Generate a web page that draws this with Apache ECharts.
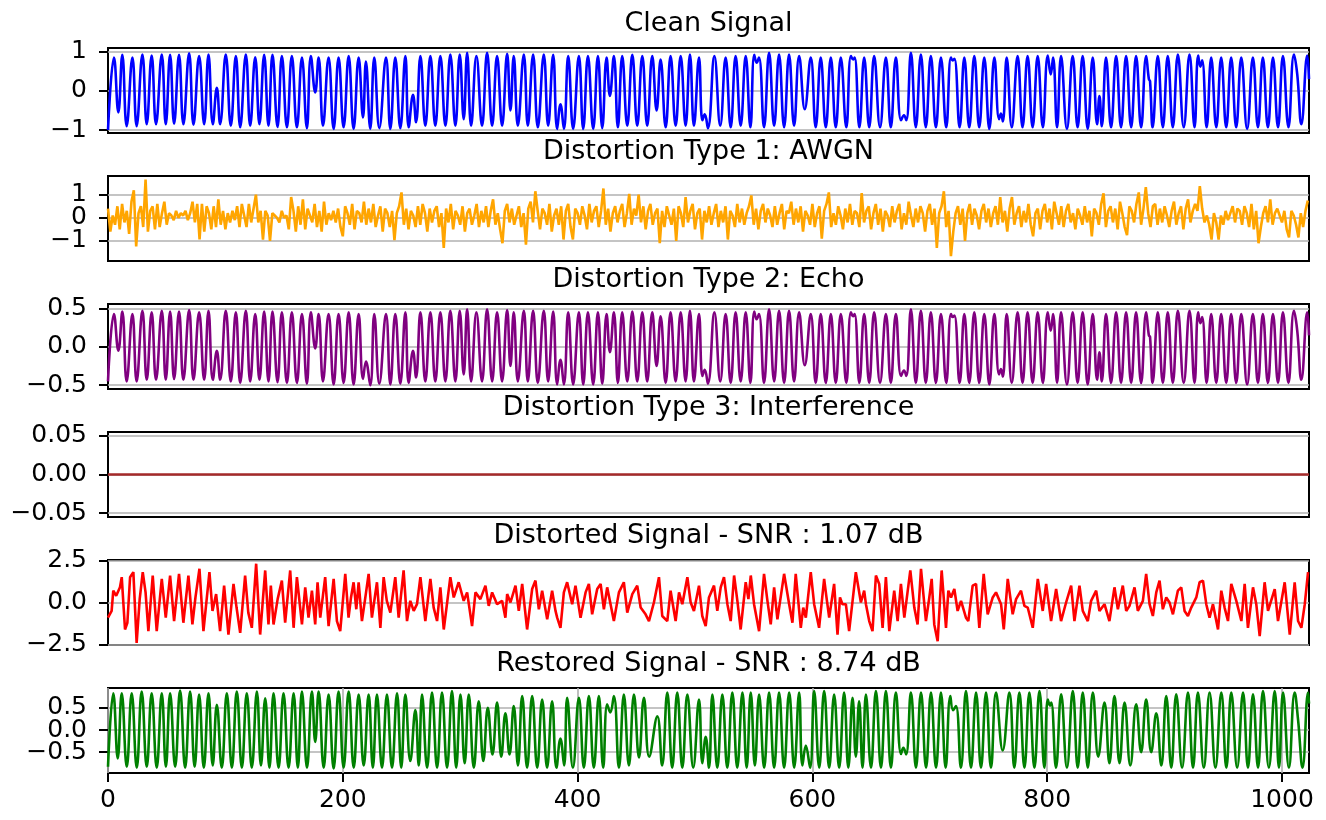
<!DOCTYPE html>
<html><head><meta charset="utf-8">
<script src="https://cdn.jsdelivr.net/npm/echarts@6/dist/echarts.min.js"></script>
<style>html,body{margin:0;padding:0;background:#fff}#chart{width:1326px;height:820px}</style>
</head><body><div id="chart"></div>
<script>
const titles = ['Clean Signal','Distortion Type 1: AWGN','Distortion Type 2: Echo','Distortion Type 3: Interference','Distorted Signal - SNR : 1.07 dB','Restored Signal - SNR : 8.74 dB'];
const xTicks = [0,200,400,600,800,1000];
const cleanTicks = [-1,0,1];
const awgnTicks = [-1,0,1];
const echoTicks = [-0.5,0,0.5];
const interfTicks = [-0.05,0,0.05];
const distTicks = [-2.5,0,2.5];
const restTicks = [-0.5,0,0.5];

// clean signal: sample positions of its turning points and their values
const cleanX = [0,5.1,8.8,12.2,15.9,20.8,24.4,29.3,33.0,37.2,40.9,45.8,49.2,52.9,56.3,60.5,64.2,69.1,72.8,77.6,81.9,85.6,89.3,92.7,95.5,100.3,104.6,108.9,112.6,117.4,121.1,125.4,129.0,133.0,136.7,140.1,144.4,148.1,152.4,156.6,160.9,165.2,169.4,172.8,176.5,179.4,183.1,187.9,192.2,196.4,200.7,205.0,209.2,213.5,217.2,219.7,223.4,226.8,231.1,236.8,240.5,244.7,249.0,253.3,
256.1,259.8,262.4,266.1,270.3,274.6,278.8,283.1,287.4,291.6,295.9,299.6,303.0,305.9,309.3,313.8,318.6,322.9,327.2,331.4,335.7,340.0,342.8,345.6,349.1,354.2,357.6,362.1,366.1,371.2,374.9,379.2,382.6,385.4,388.3,392.0,396.2,401.1,404.8,408.8,413.3,417.3,421.0,424.7,427.5,430.9,434.3,438.0,442.3,446.6,450.8,455.1,459.3,463.6,467.3,470.7,475.0,479.2,483.5,487.8,492.0,495.7,499.1,503.4,506.3,508.3,511.0,
516.5,521.5,526.1,530.4,534.6,538.9,543.2,547.2,550.5,552.5,554.5,558.8,563.1,567.4,571.6,575.9,580.1,584.4,588.7,593.5,598.6,602.8,607.1,611.4,615.7,619.9,624.2,628.9,632.8,634.8,636.0,640.0,644.1,648.4,652.6,657.6,662.6,666.8,671.1,675.5,678.0,680.0,683.9,688.1,692.4,696.6,700.9,705.2,709.5,714.0,718.0,719.5,721.0,725.4,729.4,733.6,737.9,742.1,746.4,750.7,755.0,759.0,760.6,762.2,765.5,
769.8,774.8,779.0,783.3,787.6,791.9,796.3,800.5,803.0,805.0,808.4,811.8,816.8,821.7,825.9,830.2,834.5,838.8,842.5,844.5,846.5,850.1,854.4,858.7,862.9,867.2,871.5,875.7,880.0,884.3,886.6,887.6,889.8,894.2,898.5,902.7,907.0,911.3,916.3,921.2,925.5,928.6,930.5,932.0,935.8,939.7,944.0,948.2,952.5,956.7,961.0,965.3,970.3,975.2,979.5,983.7,988.0,992.3,996.6,1000.8,1005.5,1010.2,1013.0,1016.5,1021.5,1023];
const cleanY = [-1.0,0.85,-0.55,0.92,-0.9,0.85,-0.9,0.93,-0.85,0.9,-0.85,0.93,-0.85,0.92,-0.84,0.92,-0.85,0.96,-0.86,0.89,-0.85,0.93,-0.85,0.08,-0.85,0.93,-0.89,0.89,-0.93,0.93,-0.89,0.86,-0.85,0.92,-0.89,0.92,-0.92,0.89,-0.93,0.89,-0.93,0.85,-0.95,0.89,-0.04,0.85,-0.89,0.85,-0.97,0.85,-0.93,0.89,-0.97,0.85,-0.68,0.75,-0.97,0.85,-0.95,0.85,-0.97,0.85,-0.95,0.89,
-0.93,-0.1,-0.8,0.89,-0.89,0.89,-0.89,0.89,-0.89,0.93,-0.89,0.93,-0.72,0.97,-0.89,0.89,-0.89,0.97,-0.89,0.89,-0.89,0.95,-0.5,0.89,-0.89,0.93,-0.89,0.93,-0.93,0.93,-0.89,0.92,-0.97,-0.34,-0.97,0.89,-0.97,0.89,-0.97,0.89,-0.97,0.89,-0.95,0.85,-0.13,0.89,-0.93,0.89,-0.89,0.92,-0.89,0.89,-0.89,0.89,-0.5,0.8,-0.93,0.89,-0.89,0.89,-0.89,0.93,-0.89,0.85,-0.75,-0.6,-0.95,
0.89,-0.89,0.85,-0.93,0.89,-0.89,0.89,-0.93,0.92,0.72,0.85,-0.93,0.97,-0.89,0.93,-0.93,0.93,-0.89,0.89,-0.47,0.85,-0.93,0.85,-0.93,0.85,-0.93,0.85,-0.93,0.89,0.8,0.85,-0.93,0.85,-0.93,0.89,-0.93,0.85,-0.93,0.85,-0.75,-0.62,-0.75,0.97,-0.93,0.93,-0.93,0.89,-0.93,0.85,-0.93,0.85,0.78,0.82,-0.93,0.85,-0.93,0.89,-0.93,0.85,-0.97,0.85,-0.72,-0.58,-0.78,0.85,
-0.93,0.89,-0.93,0.89,-0.93,0.89,-0.93,0.9,0.42,0.85,-0.93,0.89,-0.97,0.89,-0.93,0.89,-0.97,0.85,-0.85,-0.13,-0.9,0.85,-0.93,0.89,-0.93,0.89,-0.93,0.89,-0.93,0.89,0.3,0.25,-0.93,0.89,-0.93,0.89,-0.93,0.93,-0.93,0.93,-0.93,0.9,0.62,0.78,-0.93,0.85,-0.93,0.85,-0.93,0.85,-0.93,0.85,-0.97,0.85,-0.93,0.85,-0.93,0.85,-0.93,0.89,-0.93,0.93,0.42,-0.85,0.9,0.3];

// echo: read at the same turning points as the clean signal
const echoY = [-0.45,0.43,-0.05,0.46,-0.45,0.43,-0.45,0.47,-0.43,0.45,-0.43,0.47,-0.43,0.46,-0.42,0.46,-0.43,0.48,-0.43,0.45,-0.43,0.47,-0.43,-0.05,-0.43,0.47,-0.45,0.45,-0.47,0.47,-0.45,0.43,-0.43,0.46,-0.45,0.46,-0.46,0.45,-0.47,0.45,-0.47,0.43,-0.48,0.45,-0.02,0.43,-0.45,0.43,-0.49,0.43,-0.47,0.45,-0.49,0.43,-0.42,-0.19,-0.5,0.43,-0.48,0.43,-0.49,0.43,-0.48,0.45,
-0.47,-0.05,-0.4,0.45,-0.45,0.45,-0.45,0.45,-0.45,0.47,-0.45,0.47,-0.36,0.49,-0.45,0.45,-0.45,0.49,-0.45,0.45,-0.45,0.48,-0.25,0.45,-0.45,0.47,-0.45,0.47,-0.47,0.47,-0.45,0.46,-0.49,-0.17,-0.49,0.45,-0.49,0.45,-0.49,0.45,-0.49,0.45,-0.48,0.43,-0.07,0.45,-0.47,0.45,-0.45,0.46,-0.45,0.45,-0.45,0.45,-0.25,0.4,-0.47,0.45,-0.45,0.45,-0.45,0.47,-0.45,0.43,-0.38,-0.3,-0.48,
0.45,-0.45,0.43,-0.47,0.45,-0.45,0.45,-0.47,0.46,0.36,0.43,-0.47,0.49,-0.45,0.47,-0.47,0.47,-0.45,0.45,-0.24,0.43,-0.47,0.43,-0.47,0.43,-0.47,0.43,-0.47,0.45,0.4,0.43,-0.47,0.43,-0.47,0.45,-0.47,0.43,-0.47,0.43,-0.38,-0.31,-0.38,0.49,-0.47,0.47,-0.47,0.45,-0.47,0.43,-0.47,0.43,0.39,0.41,-0.47,0.43,-0.47,0.45,-0.47,0.43,-0.49,0.43,-0.36,-0.29,-0.39,0.43,
-0.47,0.45,-0.47,0.45,-0.47,0.45,-0.47,0.45,0.21,0.43,-0.47,0.45,-0.49,0.45,-0.47,0.45,-0.49,0.43,-0.43,-0.07,-0.45,0.43,-0.47,0.45,-0.47,0.45,-0.47,0.45,-0.47,0.45,0.15,0.13,-0.47,0.45,-0.47,0.45,-0.47,0.47,-0.47,0.47,-0.47,0.45,0.31,0.39,-0.47,0.43,-0.47,0.43,-0.47,0.43,-0.47,0.43,-0.49,0.43,-0.47,0.43,-0.47,0.43,-0.47,0.45,-0.47,0.47,0.21,-0.43,0.45,0.15];

// AWGN: one value every AWGN_STEP samples
const AWGN_STEP = 2;
const awgnY = [
0.4,-0.6,0.1,-0.3,0.5,-0.5,0.6,-0.2,0.3,-0.7,0.7,1.19,-1.24,0.2,0.5,-0.4,
1.66,-0.6,0.3,0.5,-0.5,0.6,-0.4,0.2,0.7,-0.3,0.2,0.1,-0.1,0.3,0.0,0.2,
0.1,0.3,-0.1,0.2,0.7,-0.2,0.6,-0.94,0.6,-0.6,0.5,0.2,-0.5,0.5,-0.4,0.8,
-0.3,0.3,-0.5,0.2,-0.2,0.3,-0.1,0.5,-0.4,0.6,0.1,-0.4,0.6,-0.2,0.4,1.0,
-0.2,0.3,-0.94,0.3,0.1,-1.0,0.2,0.1,0.0,-0.2,0.3,0.0,0.1,-0.5,0.9,0.3,
-0.6,0.5,-0.3,0.8,-0.5,0.4,0.1,-0.2,0.6,-0.4,0.3,-0.6,0.7,-0.3,0.2,-0.1,
0.3,-0.2,0.4,-0.4,-0.8,0.5,0.2,-0.3,0.6,-0.5,0.3,0.2,-0.2,0.7,-0.3,0.4,
-0.2,0.6,-0.4,0.1,0.5,-0.6,0.4,0.2,-0.4,0.3,-0.97,0.2,0.5,1.1,-0.3,0.4,
-0.5,0.3,0.1,-0.4,0.5,-0.3,0.6,0.2,-0.6,0.4,-0.2,0.3,0.5,-0.4,0.2,-1.3,
0.4,-0.2,0.6,-0.5,0.3,0.1,-0.3,0.5,-0.6,0.2,0.4,-0.3,0.1,0.6,-0.4,0.3,
-0.2,0.5,-0.4,0.3,0.8,-0.3,0.2,-0.5,-1.1,0.3,0.6,-0.2,0.4,-0.3,0.1,0.5,
-0.4,0.2,-1.16,0.4,0.7,-0.2,1.15,0.3,-0.5,0.4,0.2,-0.3,0.6,-0.6,0.1,0.4,
-0.3,0.5,-0.94,0.3,0.6,-0.4,-0.94,0.4,0.2,-0.3,0.5,0.1,-0.5,0.6,-0.2,0.3,
0.5,-0.4,0.3,1.27,-0.3,0.4,-0.6,0.2,0.5,-0.2,0.3,0.6,-0.4,0.2,1.04,-0.3,
0.4,0.1,1.0,-0.2,0.5,-0.5,0.3,0.6,-0.3,0.2,0.4,-1.1,0.3,-0.4,0.5,0.1,
-0.3,0.4,-1.0,0.5,0.2,-0.4,0.9,-0.2,0.3,0.6,-0.5,0.2,0.4,-0.94,0.3,-0.2,
0.5,-0.3,0.2,0.6,-0.4,0.3,-0.2,0.5,-0.94,0.3,0.1,-0.4,0.6,-0.2,0.4,-0.3,
0.2,0.5,0.97,-0.3,0.4,-0.5,0.3,0.6,-0.2,0.4,0.1,-0.4,0.5,-0.3,0.2,0.6,
-0.5,0.3,0.2,0.7,-0.3,0.4,-0.2,0.5,-0.6,0.3,0.1,-0.3,0.6,-0.4,0.2,0.5,
-0.9,0.3,0.6,1.1,-0.4,0.2,-0.3,0.5,0.1,-0.5,0.4,-0.2,0.6,-0.3,0.3,0.2,
-0.4,1.07,-0.2,0.3,0.5,-0.5,0.2,0.6,-0.3,0.4,-0.6,0.3,0.1,-0.4,0.5,-0.2,
0.3,0.6,-0.5,0.2,-0.3,0.7,0.1,-0.4,0.4,-0.2,0.5,0.2,-0.6,0.3,0.6,-0.3,
0.4,-1.3,0.2,0.5,1.15,-0.4,0.3,-1.66,-0.6,0.2,0.5,-0.3,0.4,-1.0,0.2,0.6,
-0.3,0.4,0.1,-0.5,0.3,0.6,-0.2,0.4,-0.4,0.2,0.5,-0.3,0.9,-0.2,0.3,-0.6,
0.4,0.9,-0.3,0.2,0.5,-0.4,0.3,-0.2,0.6,-0.3,-0.8,0.2,0.4,-0.5,0.3,0.6,
-0.2,0.4,-0.5,0.7,0.2,-0.3,0.5,-0.4,0.3,0.6,-0.2,0.2,-0.5,0.4,0.1,-0.3,
0.5,-0.2,0.3,-0.8,0.4,0.2,-0.3,0.6,1.06,-0.4,0.3,0.5,-0.2,0.4,-0.5,0.7,
0.2,-0.4,-0.75,0.5,0.3,-0.2,0.6,1.1,-0.3,0.4,1.33,0.2,-0.4,0.5,0.6,-0.3,
0.4,-0.2,0.5,0.1,-0.4,0.3,0.7,-0.3,0.2,0.5,-0.5,0.4,0.8,-0.2,0.3,0.6,
0.3,1.37,0.4,-0.2,0.1,-0.3,-0.94,0.2,-0.2,-0.94,0.1,-0.3,0.3,-0.1,0.2,0.5,
-0.2,0.4,0.3,-0.3,0.5,0.2,-0.4,0.6,-0.5,0.3,-1.1,-0.4,0.2,0.5,-0.2,0.8,
-0.3,0.2,0.4,0.1,-0.2,0.3,-0.5,-0.85,0.3,0.1,-0.3,-0.85,0.2,-0.4,0.3,0.75];

// interference: flat zero line
const interfX = [0,1023];
const interfY = [0,0];

// distorted signal: [sample, value]
const distPoints = [[0,-0.9],[3.1,-0.5],[4.5,0.7],[7,0.4],[10.2,0.9],[11.7,1.5],[14.5,-1.6],[16.5,-1.2],[18.8,1.5],[21.6,1.8],[24.4,-2.4],[27,0.2],[29.6,1.8],[32,0.6],[34.4,-1.7],[38.1,1.6],[41.5,-1.7],[45.8,1.4],[49.2,-0.9],[52.9,1.6],[56.3,-1.1],[60.5,1.7],[64.2,-1.2],[68.5,1.6],[71.9,-1.3],[74.5,0.3],[77.9,2.0],[81.3,-1.7],[86.4,1.8],[89,-0.5],[92.1,0.5],[95.5,-1.7],[98.9,1.0],[102.6,-1.9],[106.9,1.1],[109.5,-0.3],[112.6,-1.8],[116.8,1.6],[119.5,-0.6],[122.5,-1.5],[126.2,2.3],[129.6,-1.9],[133.9,1.9],[136.7,-1.3],[138.7,1.0],[141,-1.3],[144.5,0.2],[148.1,1.3],[150.9,-1.2],[155.2,1.9],[158.1,-1.5],[160.9,1.5],[165.2,-1.3],[168,0.9],[170.8,-0.9],[173.7,0.7],[176.5,-1.3],[178.5,1.2],[180.8,-0.9],[185,1.5],[187.9,-1.4],[192.2,1.4],[195,-1.1],[197.8,-1.7],[202.1,1.7],[204.9,-0.9],[207,0.3],[209.2,1.2],[211.5,-0.4],[213.5,1.2],[216.3,-1.1],[219,0.2],[222,1.7],[224.8,-0.9],[229.1,1.2],[232,-1.5],[234.8,1.5],[237.5,0.1],[240.5,-0.6],[244.7,1.5],[247.6,-0.9],[251.8,1.9],[254.7,-1.1],
[257.5,0.1],[260.4,-0.5],[263.2,-0.1],[266.1,1.5],[270.3,-1.1],[274.6,1.4],[277.4,-0.3],[280.3,-1.1],[283.1,0.9],[286,-1.6],[291.6,1.5],[294.5,0.3],[298.7,1.2],[303,0.1],[305.9,0.6],[310.1,-1.4],[313,0.6],[317.2,0.2],[321.5,1.0],[324.3,-0.2],[327.2,0.6],[331.4,-0.1],[335.7,0.1],[338.5,-0.9],[340,0.5],[342.8,0],[347.1,1.0],[349.9,-0.5],[352.8,1.1],[357,-1.6],[361.3,0.8],[364.1,1.3],[367,-0.4],[369.8,0.7],[374.1,-1.0],[378.3,0.7],[381.2,-0.5],[382.6,-0.9],[385.4,-1.5],[388.3,0.6],[391.1,1.2],[395.4,-0.1],[398.2,1.0],[402.5,-0.9],[406.8,0.6],[409.6,1.1],[412.4,-0.7],[416.7,0.8],[419.6,1.1],[422.4,-0.4],[425.2,0.9],[430.9,-1.1],[435.2,0.6],[439.4,1.2],[442.3,-0.6],[446.6,0.5],[450.8,1.0],[453.7,-0.3],[457.9,-0.7],[460.8,-1.1],[465,0],[469.3,1.5],[472.1,-0.8],[476.4,-1.1],[479.2,0.7],[483.5,-1.1],[486.4,0.6],[489.2,-0.1],[493.5,1.5],[496.3,0],[499.1,-0.5],[503.4,1.0],[506.2,-0.8],[509.1,-1.4],[511.9,0.3],[516.2,1.0],[519,-0.5],[521.9,0.9],[524.7,1.5],[527.6,-0.1],[530.4,-1.1],[533.3,1.6],[536.1,0.1],[538.9,-1.6],[543.2,1.2],[545.5,0.2],[547.5,1.6],[550.3,-0.1],[554.6,-1.7],[558.8,1.7],[561.7,0.1],[564.5,-1.3],[567.4,0.9],[570.2,-1.0],[575.9,1.7],[580.2,-0.1],[583,-1.2],[585.8,1.7],[590.1,-1.5],[592.2,-0.3],[594.4,-0.9],[598.6,1.8],[601.5,-0.1],[605.7,-1.5],[610,1.4],[612,0.3],[614.3,-0.9],[618.5,1.1],[621.4,-1.9],[623.5,0.3],[625.6,-0.1],[628.5,-0.1],[631.3,-1.7],[637,1.8],[641.3,0],
[644.1,0.7],[645.6,-0.1],[648.4,-1.1],[651.2,-1.7],[654.1,1.6],[656.9,1.1],[659.8,-1.5],[662.6,1.5],[665.5,-1.7],[669.7,0.7],[672.6,-1.1],[675.4,1.1],[678.3,-0.9],[683.4,1.9],[686.8,-0.3],[689.6,-1.3],[692.5,2.0],[696.7,-1.1],[699.6,0.3],[701.6,1.4],[703.8,-1.3],[706.7,-2.3],[710.1,1.9],[713.8,-1.5],[715.8,0.7],[718.1,0.3],[720.9,0.8],[723.7,-0.5],[726.6,0.1],[730.8,-0.9],[732.8,-1.1],[736.5,1.0],[739.4,1.1],[742.2,-1.5],[745.9,1.7],[749.3,-0.7],[753.6,0.3],[756.4,0.6],[760.7,-0.1],[763,-1.6],[766.4,1.4],[770.6,-0.7],[773.5,0.2],[777.7,0.7],[780.6,-0.2],[783.4,-0.3],[787.7,-1.5],[792,1.4],[796.2,-0.5],[799.1,1.1],[803.3,-1.1],[807.6,0.8],[811.8,-1.1],[816.1,0],[820.4,1.0],[823.2,-1.1],[827.5,1.0],[830.3,-0.5],[834.6,-1.1],[837.4,0.1],[841.7,0.7],[844.5,-0.5],[848.8,-0.1],[853,-1.1],[857.3,0.9],[860.2,-0.4],[864.4,1.0],[867.3,-0.5],[870.1,-0.2],[874.4,0.9],[877.2,-0.5],[881.5,0.1],[884.3,1.7],[887.2,-0.1],[890,-0.8],[892.9,0.6],[895.7,1.3],[898.5,-0.4],[901.4,0.3],[904.2,0],[907.1,-0.7],[911.3,0.7],[914.2,0.9],[917,-0.5],[919.9,-0.8],[922.7,-0.3],[927,0.3],[929.8,1.2],[932.7,1.3],[935.5,-0.1],[938.3,-0.9],[941.2,-0.1],[945.5,-1.6],[948.3,0.7],[951.1,-0.3],[954,-1.1],[956.8,1.1],[961.1,0.1],[965.4,-1.1],[968.2,1.1],[971,-1.5],[975.3,0.9],[978.1,-0.1],[981,-2.0],[985.2,1.2],[988.1,-0.5],[993.8,0.8],[996.6,-1.1],[1002.3,1.2],[1006.6,-1.9],[1010.8,1.2],[1013.7,-1.1],[1016.5,-1.5],[1019.4,-0.1],[1022.2,1.8]];

// restored signal: [sample, value] at its turning points
const restPoints = [[0,-0.83],[4.5,0.83],[8.3,-0.64],[11.7,0.83],[16,-0.83],[20.2,0.83],[24.5,-0.85],[28.7,0.87],[33,-0.83],[37.2,0.83],[41.5,-0.85],[45.8,0.83],[49.3,-0.83],[52.9,0.83],[57.2,-0.83],[61.4,0.89],[65.7,-0.85],[69.9,0.87],[73.8,-0.83],[77.6,0.8],[81.6,-0.85],[85.6,0.83],[89.2,-0.8],[92.7,0.57],[96.9,-0.85],[101.2,0.83],[105.5,-0.85],[109.7,0.87],[114,-0.85],[118.2,0.83],[122.5,-0.85],[126.8,0.87],[130.3,-0.8],[133.9,0.72],[137.5,-0.85],[141,0.83],[145.3,-0.85],[149.5,0.83],[153.8,-0.85],[158.1,0.83],[161.7,-0.85],[165.2,0.87],[169.5,-0.85],[173.7,0.87],[176.5,-0.27],[179.4,0.87],[183.7,-0.85],[187.9,0.8],[192.2,-0.87],[196.4,0.87],[200.7,-0.85],[205,0.87],[209.3,-0.85],[213.5,0.8],[217.8,-0.8],[222,0.8],[225.6,-0.85],[229.1,0.8],[233.4,-0.85],[237.6,0.8],[241.9,-0.85],[246.2,0.83],[249.8,-0.85],[253.3,0.8],[257.5,-0.7],[261.8,0.45],[264.7,-0.8],
[267.5,0.8],[271.8,-0.85],[276,0.85],[280.3,-0.85],[284.5,0.85],[288.8,-0.85],[293,0.88],[296.6,-0.85],[300.2,0.8],[303.8,-0.75],[307.3,0.8],[311.6,-0.85],[315.8,0.65],[319.7,-0.7],[323.5,0.5],[327.5,-0.55],[331.4,0.62],[335,-0.6],[338.5,0.38],[342,-0.55],[345.6,0.54],[349.2,-0.8],[352.8,0.77],[357,-0.85],[361.3,0.77],[365.6,-0.85],[369.8,0.69],[374,-0.85],[378.3,0.65],[382,-0.85],[385.4,-0.19],[388.5,-0.8],[391.1,0.73],[396,-0.85],[401.1,0.73],[405.3,-0.85],[409.6,0.77],[413.8,-0.85],[418.1,0.77],[421.8,-0.85],[425.2,0.58],[427.8,0.4],[430.9,0.77],[435.2,-0.85],[439.4,0.8],[443.7,-0.8],[448,0.8],[452.3,-0.62],[456.5,0.73],[461,-0.6],[467.9,0.31],[472,-0.8],[476.4,0.85],[480.6,-0.85],[484.9,0.85],[489.2,-0.85],[493.5,0.8],[498.5,-0.85],[503.4,0.69],[506.3,-0.75],[509.1,-0.15],[511.9,-0.85],[514.8,0.8],[519,-0.85],[523.3,0.8],[527.5,-0.85],[531.8,0.85],[536,-0.85],[540.4,0.85],[544,-0.85],[547.5,0.85],[551,-0.8],[554.6,0.8],[558.9,-0.85],[563.1,0.85],[567.4,-0.85],[571.6,0.85],[575.9,-0.85],[580.2,0.85],[584.5,-0.85],[588.7,0.85],[591.5,-0.8],[594.4,-0.35],[598,-0.85],[601.5,0.88],[605.8,-0.85],[610,0.88],[614.3,-0.85],[618.5,0.8],[622.8,-0.85],[627,0.85],[630.6,-0.85],[634.2,0.73],[637,-0.6],[639.8,0.65],[642.7,-0.85],
[645.6,0.8],[649.9,-0.85],[654.1,0.88],[658.4,-0.85],[662.6,0.88],[666.9,-0.85],[671.1,0.85],[675.5,-0.54],[677.5,-0.4],[679.8,-0.55],[683.9,0.85],[688.2,-0.85],[692.5,0.85],[696.8,-0.85],[701,0.85],[705.3,-0.85],[709.5,0.85],[713.5,-0.85],[717.5,0.77],[719.8,0.45],[722.3,0.54],[726.5,-0.85],[730.8,0.88],[735.1,-0.85],[739.4,0.85],[743.6,-0.85],[747.9,0.85],[752.1,-0.85],[756.4,0.85],[762.1,-0.46],[767.8,0.85],[772,-0.85],[776.3,0.85],[780.6,-0.85],[784.8,0.85],[789.1,-0.85],[793.4,0.88],[797.6,-0.85],[800.5,0.69],[802.5,0.55],[803.5,0.62],[807.5,-0.85],[811.9,0.81],[816.8,-0.85],[821.8,0.88],[826,-0.85],[830.3,0.85],[834.6,-0.85],[838.9,0.85],[843.5,-0.6],[848.8,0.62],[853,-0.75],[857.3,0.77],[861.6,-0.75],[865.9,0.62],[870.8,-0.8],[875.8,0.58],[880,-0.5],[884.3,0.69],[888.6,-0.5],[892.9,0.38],[897.2,-0.8],[901.4,0.77],[905.7,-0.85],[909.9,0.81],[914.9,-0.85],[919.9,0.85],[924.2,-0.85],[928.4,0.85],[933.4,-0.85],[938.3,0.85],[943.3,-0.85],[948.3,0.85],[952.6,-0.85],[956.8,0.85],[961.8,-0.85],[966.8,0.85],[971,-0.85],[975.3,0.81],[979.6,-0.85],[983.8,0.88],[988.8,-0.85],[993.8,0.88],[997.4,-0.85],[1000.9,0.85],[1005.9,-0.85],[1010.8,0.85],[1013.7,0.23],[1017.5,-0.85],[1022.2,0.85],[1023,0.6]];

// ---------- chart construction ----------
const FONT = '"DejaVu Sans", "Liberation Sans", sans-serif';
const panels = [
  {color:'#0000ff', data: cleanX.map((x,i)=>[x, cleanY[i]]), yMin:-1.075, yMax:1.095, ticks:cleanTicks, dec:0, smooth:0.45},
  {color:'#ffa500', data: awgnY.map((v,i)=>[i*AWGN_STEP, v]), yMin:-1.87, yMax:1.81, ticks:awgnTicks, dec:0, smooth:false},
  {color:'#800080', data: cleanX.map((x,i)=>[x, echoY[i]]), yMin:-0.55, yMax:0.56, ticks:echoTicks, dec:1, smooth:0.45},
  {color:'#a52a2a', data: interfX.map((x,i)=>[x, interfY[i]]), yMin:-0.055, yMax:0.055, ticks:interfTicks, dec:2, smooth:false},
  {color:'#ff0000', data: distPoints, yMin:-2.52, yMax:2.52, ticks:distTicks, dec:1, smooth:false},
  {color:'#008000', data: restPoints, yMin:-0.97, yMax:0.95, ticks:restTicks, dec:1, smooth:0.45}
];
const GRID_LEFT = 108, GRID_WIDTH = 1201, GRID_H = 85;
const gridTops = [48, 176, 304, 432, 560, 688];
const fmt = d => v => (v < 0 ? '\u2212' : '') + Math.abs(v).toFixed(d);
const labelStyle = {color: '#000', fontSize: 25, fontFamily: FONT, hideOverlap: false};

const grids = [], xAxes = [], yAxes = [], auxYAxes = [], series = [], graphics = [];
panels.forEach((p, i) => {
  const last = i === panels.length - 1;
  grids.push({left: GRID_LEFT, width: GRID_WIDTH, top: gridTops[i], height: GRID_H,
    show: true, borderColor: '#000', borderWidth: 2, backgroundColor: 'transparent', containLabel: false});
  xAxes.push({type: 'value', gridIndex: i, min: 0, max: 1023, show: last, position: 'bottom',
    axisLine: {show: false, onZero: false},
    axisTick: {show: last, inside: false, length: 9, customValues: xTicks, lineStyle: {color: '#000', width: 2}},
    axisLabel: Object.assign({show: last, customValues: xTicks, margin: 15, formatter: v => String(v)}, labelStyle),
    splitLine: {show: last, lineStyle: {color: '#b0b0b0', width: 1.6}}
  });
  // main y axis: ticks, grid lines, outer labels
  yAxes.push({type: 'value', gridIndex: i, min: p.yMin, max: p.yMax, position: 'left',
    axisLine: {show: false, onZero: false},
    axisTick: {show: true, inside: false, length: 9, customValues: p.ticks, lineStyle: {color: '#000', width: 2}},
    axisLabel: Object.assign({customValues: [p.ticks[0], p.ticks[2]], margin: 21, showMinLabel: true, showMaxLabel: true,
      formatter: fmt(p.dec)}, labelStyle),
    splitLine: {show: true, lineStyle: {color: '#b0b0b0', width: 1.6}}
  });
  // companion y axis on the same scale carrying the middle label (kept separate so it is never dropped as overlapping)
  auxYAxes.push({type: 'value', gridIndex: i, min: p.yMin, max: p.yMax, position: 'left',
    axisLine: {show: false, onZero: false}, axisTick: {show: false}, splitLine: {show: false},
    axisLabel: Object.assign({customValues: [p.ticks[1]], margin: 21, formatter: fmt(p.dec)}, labelStyle)
  });
  series.push({type: 'line', xAxisIndex: i, yAxisIndex: i, data: p.data, showSymbol: false, symbol: 'none',
    smooth: p.smooth, clip: true, animation: false, silent: true,
    lineStyle: {color: p.color, width: 2.6}});
  graphics.push({type: 'text', x: GRID_LEFT + GRID_WIDTH / 2, y: gridTops[i] - 24,
    style: {text: titles[i], fill: '#000', font: '27px ' + FONT, align: 'center', verticalAlign: 'middle',
      textAlign: 'center', textVerticalAlign: 'middle'}});
});

const chart = echarts.init(document.getElementById('chart'), null, {renderer: 'canvas', width: 1326, height: 820});
chart.setOption({
  animation: false,
  backgroundColor: '#fff',
  grid: grids, xAxis: xAxes, yAxis: yAxes.concat(auxYAxes), series: series, graphic: graphics
});
</script>
</body></html>
